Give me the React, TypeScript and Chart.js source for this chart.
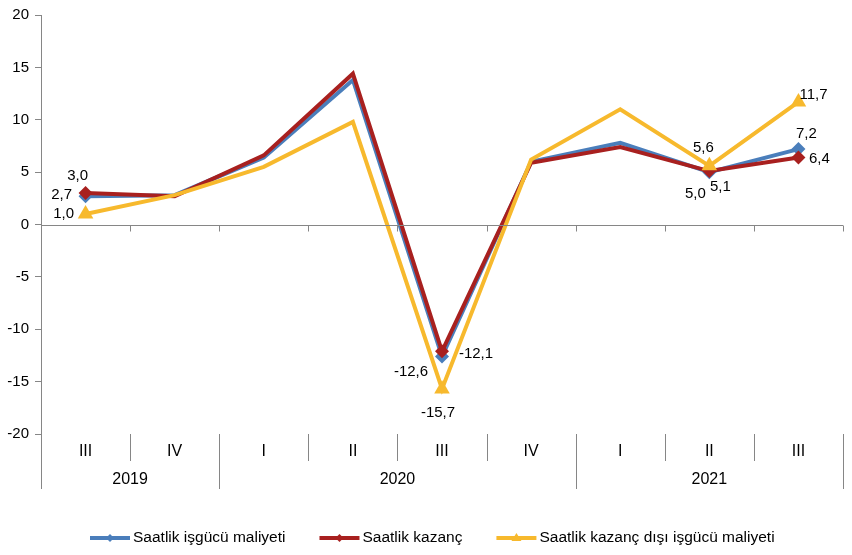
import { useEffect, useRef } from "react";
import { Chart, registerables } from "chart.js";

Chart.register(...registerables);

const quarters = ["III", "IV", "I", "II", "III", "IV", "I", "II", "III"];
const years = ["2019", "2020", "2021"];
const yearSpans = [2, 4, 3];
const isgucuMaliyeti = [2.7, 2.8, 6.4, 13.8, -12.6, 6.0, 7.8, 5.0, 7.2];
const kazanc = [3.0, 2.7, 6.6, 14.4, -12.1, 5.9, 7.4, 5.1, 6.4];
const kazancDisi = [1.0, 2.8, 5.5, 9.8, -15.7, 6.2, 11.0, 5.6, 11.7];
const labeledIndices = [0, 4, 7, 8];
const seriesNames = [
  "Saatlik işgücü maliyeti",
  "Saatlik kazanç",
  "Saatlik kazanç dışı işgücü maliyeti",
];
const yTicks = { min: -20, max: 20, step: 5 };

const COLORS = ["#4A7EBB", "#A8201F", "#F7B92D"];
const STYLES = ["rectRot", "rectRot", "triangle"];
const FONT = "'Liberation Sans', Arial, sans-serif";

// label offsets (dx, dy) relative to each marker, per series, keyed by point index
const LABEL_OFFSETS: Record<number, [number, number]>[] = [
  { 0: [-24, -1], 4: [-31, 15], 7: [-14, 22], 8: [8, -15] },
  { 0: [-8, -17], 4: [34, 3], 7: [11, 16], 8: [21, 1] },
  { 0: [-22, 0], 4: [-4, 24], 7: [-6, -18], 8: [15, -7] },
];

const fmt = (v: number) => v.toFixed(1).replace(".", ",");

const overlayPlugin = {
  id: "overlay",
  afterDatasetsDraw(chart: any) {
    const { ctx, chartArea, scales } = chart;
    const x = scales.x;
    const y = scales.y;
    const n = quarters.length;
    const left = chartArea.left;
    const right = chartArea.right;
    const bottom = chartArea.bottom;
    const top = chartArea.top;
    const boundary = (i: number) => {
      if (i <= 0) return left;
      if (i >= n) return right;
      return (x.getPixelForValue(i - 1) + x.getPixelForValue(i)) / 2;
    };
    ctx.save();
    ctx.strokeStyle = "#868686";
    ctx.lineWidth = 1;
    // y axis line, extended through category rows
    ctx.beginPath();
    ctx.moveTo(Math.round(left) + 0.5, top);
    ctx.lineTo(Math.round(left) + 0.5, bottom + 55);
    ctx.stroke();
    // zero line with ticks
    const y0 = Math.round(y.getPixelForValue(0)) + 0.5;
    ctx.beginPath();
    ctx.moveTo(left, y0);
    ctx.lineTo(right, y0);
    for (let i = 1; i <= n; i++) {
      const bx = Math.round(boundary(i)) + 0.5;
      ctx.moveTo(bx, y0);
      ctx.lineTo(bx, y0 + 6);
    }
    ctx.stroke();
    // category separators
    const yearBounds = new Set<number>([0]);
    let acc = 0;
    yearSpans.forEach((s) => {
      acc += s;
      yearBounds.add(acc);
    });
    ctx.beginPath();
    for (let i = 1; i <= n; i++) {
      const bx = Math.round(boundary(i)) + 0.5;
      ctx.moveTo(bx, bottom);
      ctx.lineTo(bx, bottom + (yearBounds.has(i) ? 55 : 27));
    }
    ctx.stroke();
    // quarter labels
    ctx.fillStyle = "#000";
    ctx.font = `16px ${FONT}`;
    ctx.textAlign = "center";
    ctx.textBaseline = "middle";
    quarters.forEach((q, i) => {
      ctx.fillText(q, x.getPixelForValue(i), bottom + 18);
    });
    // year labels
    let start = 0;
    years.forEach((yr, k) => {
      const cx = (boundary(start) + boundary(start + yearSpans[k])) / 2;
      ctx.fillText(yr, cx, bottom + 46);
      start += yearSpans[k];
    });
    // data labels
    ctx.font = `15px ${FONT}`;
    chart.data.datasets.forEach((ds: any, di: number) => {
      const meta = chart.getDatasetMeta(di);
      labeledIndices.forEach((idx) => {
        const el = meta.data[idx];
        const off = LABEL_OFFSETS[di][idx] || [0, -14];
        ctx.fillText(fmt(ds.data[idx]), el.x + off[0], el.y + off[1]);
      });
    });
    // legend
    ctx.font = `15.5px ${FONT}`;
    const ly = 538;
    let lx = 90;
    ctx.textAlign = "left";
    seriesNames.forEach((name, i) => {
      ctx.strokeStyle = COLORS[i];
      ctx.lineWidth = 4;
      ctx.beginPath();
      ctx.moveTo(lx, ly);
      ctx.lineTo(lx + 40, ly);
      ctx.stroke();
      ctx.fillStyle = COLORS[i];
      const mx = lx + 20;
      ctx.beginPath();
      if (STYLES[i] === "triangle") {
        ctx.moveTo(mx, ly - 5);
        ctx.lineTo(mx + 5, ly + 3);
        ctx.lineTo(mx - 5, ly + 3);
      } else {
        ctx.moveTo(mx, ly - 4);
        ctx.lineTo(mx + 4, ly);
        ctx.lineTo(mx, ly + 4);
        ctx.lineTo(mx - 4, ly);
      }
      ctx.closePath();
      ctx.fill();
      ctx.fillStyle = "#000";
      ctx.fillText(name, lx + 43, ly);
      lx += 43 + ctx.measureText(name).width + 34;
    });
    ctx.restore();
  },
};

export default function App() {
  const ref = useRef<HTMLCanvasElement | null>(null);
  useEffect(() => {
    if (!ref.current) return;
    const series = [isgucuMaliyeti, kazanc, kazancDisi];
    const chart = new Chart(ref.current, {
      type: "line",
      data: {
        labels: quarters,
        datasets: series.map((d, i) => ({
          label: seriesNames[i],
          data: d,
          borderColor: COLORS[i],
          backgroundColor: COLORS[i],
          borderWidth: 4,
          tension: 0,
          fill: false,
          pointStyle: STYLES[i] as any,
          pointRadius: (c: any) =>
            labeledIndices.includes(c.dataIndex) ? (i === 2 ? 9 : 7) : 0,
          pointHoverRadius: 0,
          pointBorderWidth: 0,
          order: 2 - i,
        })),
      },
      options: {
        animation: false,
        responsive: false,
        maintainAspectRatio: false,
        events: [],
        layout: { padding: { left: 0, right: 8, top: 15, bottom: 121 } },
        plugins: { legend: { display: false }, tooltip: { enabled: false } },
        scales: {
          x: { type: "category", offset: true, display: false },
          y: {
            min: yTicks.min,
            max: yTicks.max,
            ticks: {
              stepSize: yTicks.step,
              color: "#000",
              font: { family: FONT, size: 15 },
              padding: 6,
            },
            grid: {
              display: true,
              drawOnChartArea: false,
              drawTicks: true,
              tickLength: 6,
              color: "#868686",
            },
            border: { display: false },
            afterFit: (s: any) => {
              s.width = 41;
            },
          },
        },
      },
      plugins: [overlayPlugin],
    });
    return () => chart.destroy();
  }, []);
  return (
    <div style={{ position: "absolute", left: 0, top: 0, width: 852, height: 555, background: "#fff" }}>
      <canvas ref={ref} width={852} height={555} style={{ width: 852, height: 555 }} />
    </div>
  );
}
